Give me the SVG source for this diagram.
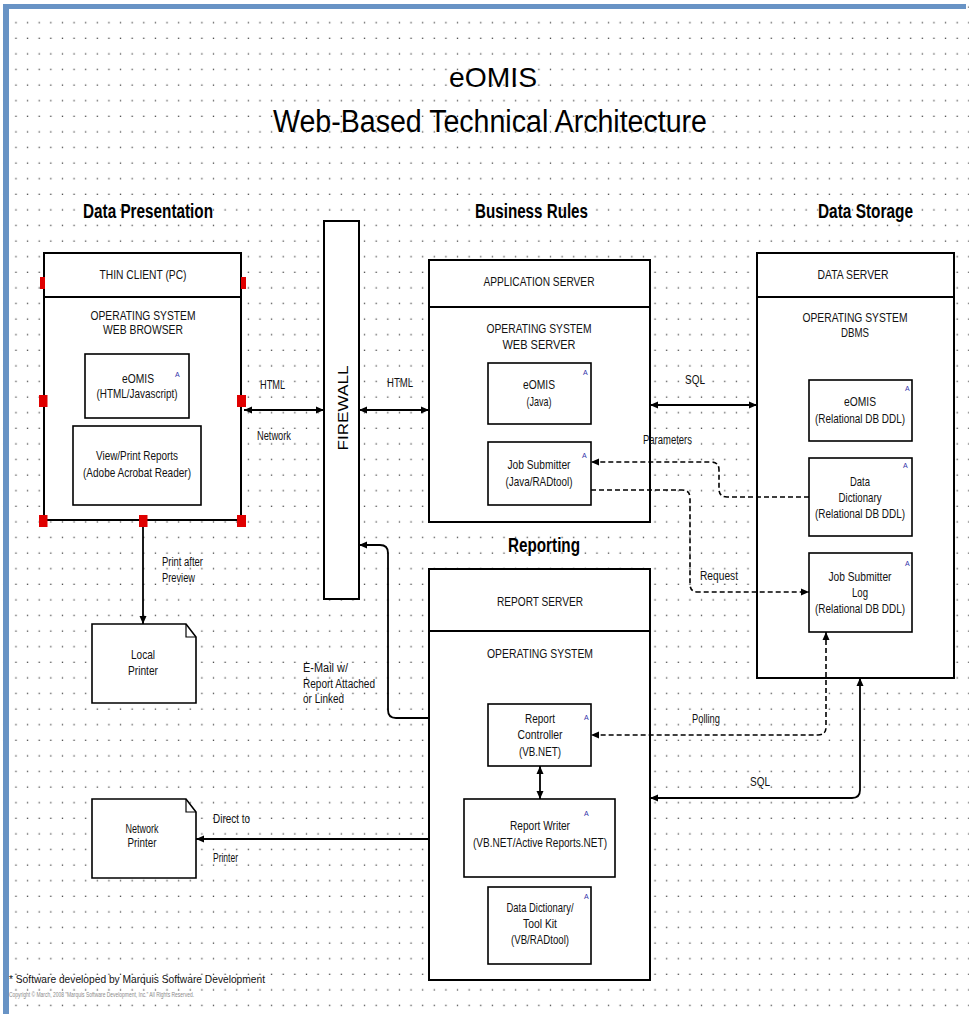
<svg xmlns="http://www.w3.org/2000/svg" width="969" height="1014" viewBox="0 0 969 1014">
<defs>
<pattern id="grid" patternUnits="userSpaceOnUse" x="0" y="0" width="11.62" height="15.6">
<rect x="3.7" y="6.45" width="1.3" height="1.3" fill="#444"/>
</pattern>
<marker id="ah" viewBox="0 0 8 8" refX="8" refY="4" markerWidth="8" markerHeight="8" markerUnits="userSpaceOnUse" orient="auto-start-reverse">
<path d="M0,0.5 L8,4 L0,7.5 z" fill="#000"/>
</marker>
</defs>
<style>
.box{fill:#fff;stroke:#000;stroke-width:2}
.in{fill:#fff;stroke:#000;stroke-width:1.6}
.t{font-family:"Liberation Sans",Arial,sans-serif;font-size:13px;text-anchor:middle;fill:#111}
.l{font-family:"Liberation Sans",Arial,sans-serif;font-size:12px;fill:#111}
.h{font-family:"Liberation Sans",Arial,sans-serif;font-size:20px;font-weight:bold;fill:#000}
.ti{font-family:"Liberation Sans",Arial,sans-serif;fill:#000}
.a{font-family:"Liberation Sans",Arial,sans-serif;font-size:7px;fill:#3333aa}
.c{fill:none;stroke:#000;stroke-width:1.8}
.d{fill:none;stroke:#000;stroke-width:1.6;stroke-dasharray:5 3}
.hd{fill:#e00000}
.f{font-family:"Liberation Sans",Arial,sans-serif;font-size:10.5px;fill:#111}
.cp{font-family:"Liberation Sans",Arial,sans-serif;font-size:6.5px;fill:#8a8a8a}
</style>
<rect width="969" height="1014" fill="#fff"/>
<rect width="969" height="1014" fill="url(#grid)"/>
<g id="frame" fill="#6893c5">
<rect x="3" y="4" width="963" height="5"/>
<rect x="3" y="4" width="6" height="1010"/>
</g>

<g id="title">
<text class="ti" x="449" y="87" font-size="28" textLength="88" lengthAdjust="spacingAndGlyphs">eOMIS</text>
<text class="ti" x="273" y="132" font-size="31" textLength="434" lengthAdjust="spacingAndGlyphs">Web-Based Technical Architecture</text>
</g>

<g id="section-headers">
<text class="h" x="83" y="218" textLength="130" lengthAdjust="spacingAndGlyphs">Data Presentation</text>
<text class="h" x="475" y="218" textLength="113" lengthAdjust="spacingAndGlyphs">Business Rules</text>
<text class="h" x="818" y="218" textLength="95" lengthAdjust="spacingAndGlyphs">Data Storage</text>
<text class="h" x="508" y="552" textLength="72" lengthAdjust="spacingAndGlyphs">Reporting</text>
</g>

<g id="thin-client">
<rect class="box" x="44" y="253" width="197" height="267"/>
<line x1="44" y1="297" x2="241" y2="297" stroke="#000" stroke-width="2"/>
<text class="t" x="143" y="279" textLength="87" lengthAdjust="spacingAndGlyphs">THIN CLIENT (PC)</text>
<text class="t" x="143" y="320" textLength="105" lengthAdjust="spacingAndGlyphs">OPERATING SYSTEM</text>
<text class="t" x="143" y="334" textLength="80" lengthAdjust="spacingAndGlyphs">WEB BROWSER</text>
</g>
<g id="tc-eomis">
<rect class="in" x="85" y="354" width="104" height="64"/>
<text class="t" x="138" y="383" textLength="32" lengthAdjust="spacingAndGlyphs">eOMIS</text>
<text class="t" x="137" y="398" textLength="81" lengthAdjust="spacingAndGlyphs">(HTML/Javascript)</text>
<text class="a" x="175" y="377">A</text>
</g>
<g id="tc-reports">
<rect class="in" x="73" y="426" width="128" height="79"/>
<text class="t" x="137" y="460" textLength="82" lengthAdjust="spacingAndGlyphs">View/Print Reports</text>
<text class="t" x="137" y="477" textLength="108" lengthAdjust="spacingAndGlyphs">(Adobe Acrobat Reader)</text>
</g>
<g id="handles">
<rect class="hd" x="40" y="277" width="5" height="12"/>
<rect class="hd" x="241" y="277" width="5" height="12"/>
<rect class="hd" x="39" y="395" width="8.5" height="12"/>
<rect class="hd" x="237" y="395" width="9" height="12"/>
<rect class="hd" x="39" y="515" width="8.5" height="12"/>
<rect class="hd" x="139" y="515" width="8.5" height="12"/>
<rect class="hd" x="237" y="515" width="9" height="12"/>
</g>

<g id="firewall">
<rect class="box" x="324" y="221" width="35" height="378"/>
<text class="ti" transform="translate(348,408) rotate(-90)" font-size="15" text-anchor="middle" textLength="85" lengthAdjust="spacingAndGlyphs">FIREWALL</text>
</g>

<g id="app-server">
<rect class="box" x="429" y="260" width="221" height="262"/>
<line x1="429" y1="307" x2="650" y2="307" stroke="#000" stroke-width="2"/>
<text class="t" x="539" y="286" textLength="111" lengthAdjust="spacingAndGlyphs">APPLICATION SERVER</text>
<text class="t" x="539" y="333" textLength="105" lengthAdjust="spacingAndGlyphs">OPERATING SYSTEM</text>
<text class="t" x="539" y="349" textLength="73" lengthAdjust="spacingAndGlyphs">WEB SERVER</text>
</g>
<g id="as-eomis">
<rect class="in" x="488" y="363" width="103" height="61"/>
<text class="t" x="539" y="389" textLength="32" lengthAdjust="spacingAndGlyphs">eOMIS</text>
<text class="t" x="539" y="406" textLength="25" lengthAdjust="spacingAndGlyphs">(Java)</text>
<text class="a" x="583" y="375">A</text>
</g>
<g id="as-jobsubmitter">
<rect class="in" x="488" y="442" width="103" height="63"/>
<text class="t" x="539" y="469" textLength="63" lengthAdjust="spacingAndGlyphs">Job Submitter</text>
<text class="t" x="539" y="486" textLength="67" lengthAdjust="spacingAndGlyphs">(Java/RADtool)</text>
<text class="a" x="582" y="458">A</text>
</g>

<g id="data-server">
<rect class="box" x="757" y="253" width="197" height="425"/>
<line x1="757" y1="297" x2="954" y2="297" stroke="#000" stroke-width="2"/>
<text class="t" x="853" y="279" textLength="71" lengthAdjust="spacingAndGlyphs">DATA SERVER</text>
<text class="t" x="855" y="322" textLength="105" lengthAdjust="spacingAndGlyphs">OPERATING SYSTEM</text>
<text class="t" x="855" y="337" textLength="28" lengthAdjust="spacingAndGlyphs">DBMS</text>
</g>
<g id="ds-eomis">
<rect class="in" x="809" y="380" width="103" height="61"/>
<text class="t" x="860" y="406" textLength="32" lengthAdjust="spacingAndGlyphs">eOMIS</text>
<text class="t" x="860" y="423" textLength="90" lengthAdjust="spacingAndGlyphs">(Relational DB DDL)</text>
<text class="a" x="905" y="391">A</text>
</g>
<g id="ds-datadictionary">
<rect class="in" x="809" y="458" width="103" height="78"/>
<text class="t" x="860" y="486" textLength="20" lengthAdjust="spacingAndGlyphs">Data</text>
<text class="t" x="860" y="502" textLength="43" lengthAdjust="spacingAndGlyphs">Dictionary</text>
<text class="t" x="860" y="518" textLength="90" lengthAdjust="spacingAndGlyphs">(Relational DB DDL)</text>
<text class="a" x="903" y="468">A</text>
</g>
<g id="ds-jobsubmitterlog">
<rect class="in" x="809" y="553" width="103" height="79"/>
<text class="t" x="860" y="581" textLength="63" lengthAdjust="spacingAndGlyphs">Job Submitter</text>
<text class="t" x="860" y="597" textLength="16" lengthAdjust="spacingAndGlyphs">Log</text>
<text class="t" x="860" y="613" textLength="90" lengthAdjust="spacingAndGlyphs">(Relational DB DDL)</text>
<text class="a" x="905" y="566">A</text>
</g>

<g id="report-server">
<rect class="box" x="429" y="569" width="221" height="411"/>
<line x1="429" y1="631" x2="650" y2="631" stroke="#000" stroke-width="2"/>
<text class="t" x="540" y="606" textLength="86" lengthAdjust="spacingAndGlyphs">REPORT SERVER</text>
<text class="t" x="540" y="658" textLength="106" lengthAdjust="spacingAndGlyphs">OPERATING SYSTEM</text>
</g>
<g id="rs-controller">
<rect class="in" x="488" y="704" width="103" height="62"/>
<text class="t" x="540" y="723" textLength="30" lengthAdjust="spacingAndGlyphs">Report</text>
<text class="t" x="540" y="739" textLength="45" lengthAdjust="spacingAndGlyphs">Controller</text>
<text class="t" x="540" y="756" textLength="42" lengthAdjust="spacingAndGlyphs">(VB.NET)</text>
<text class="a" x="584" y="720">A</text>
</g>
<g id="rs-writer">
<rect class="in" x="464" y="799" width="151" height="78"/>
<text class="t" x="540" y="830" textLength="60" lengthAdjust="spacingAndGlyphs">Report Writer</text>
<text class="t" x="540" y="847" textLength="134" lengthAdjust="spacingAndGlyphs">(VB.NET/Active Reports.NET)</text>
<text class="a" x="584" y="816">A</text>
</g>
<g id="rs-toolkit">
<rect class="in" x="488" y="887" width="103" height="77"/>
<text class="t" x="540" y="912" textLength="67" lengthAdjust="spacingAndGlyphs">Data Dictionary/</text>
<text class="t" x="540" y="928" textLength="34" lengthAdjust="spacingAndGlyphs">Tool Kit</text>
<text class="t" x="540" y="944" textLength="58" lengthAdjust="spacingAndGlyphs">(VB/RADtool)</text>
<text class="a" x="584" y="899">A</text>
</g>

<g id="local-printer">
<path class="in" d="M92,624 H186 L196,637 V703 H92 Z"/>
<path d="M186,624 V637 H196" fill="none" stroke="#000" stroke-width="1.2"/>
<text class="t" x="143" y="659" textLength="24" lengthAdjust="spacingAndGlyphs">Local</text>
<text class="t" x="143" y="675" textLength="30" lengthAdjust="spacingAndGlyphs">Printer</text>
</g>
<g id="network-printer">
<path class="in" d="M92,799 H186 L196,812 V878 H92 Z"/>
<path d="M186,799 V812 H196" fill="none" stroke="#000" stroke-width="1.2"/>
<text class="t" x="142" y="833" textLength="33" lengthAdjust="spacingAndGlyphs">Network</text>
<text class="t" x="142" y="847" textLength="29" lengthAdjust="spacingAndGlyphs">Printer</text>
</g>

<g id="connectors">
<line class="c" x1="244" y1="410" x2="324" y2="410" marker-start="url(#ah)" marker-end="url(#ah)"/>
<line class="c" x1="359" y1="410" x2="429" y2="410" marker-start="url(#ah)" marker-end="url(#ah)"/>
<line class="c" x1="650" y1="405" x2="757" y2="405" marker-start="url(#ah)" marker-end="url(#ah)"/>
<line class="c" x1="143" y1="527" x2="143" y2="624" marker-end="url(#ah)"/>
<path class="c" d="M429,718 H396 Q388,718 388,710 V553 Q388,545 380,545 H359" marker-end="url(#ah)"/>
<line class="c" x1="429" y1="839" x2="196" y2="839" marker-end="url(#ah)"/>
<line class="c" x1="540" y1="766" x2="540" y2="799" marker-start="url(#ah)" marker-end="url(#ah)"/>
<path class="c" d="M860,678 V790 Q860,798 852,798 H650" marker-start="url(#ah)" marker-end="url(#ah)"/>
<path class="d" d="M809,497 H727 Q719,497 719,489 V470 Q719,462 711,462 H591" marker-end="url(#ah)"/>
<path class="d" d="M591,490 H682 Q690,490 690,498 V584 Q690,592 698,592 H809" marker-end="url(#ah)"/>
<path class="d" d="M826,632 V727 Q826,735 818,735 H591" marker-start="url(#ah)" marker-end="url(#ah)"/>
</g>

<g id="connector-labels">
<text class="l" x="260" y="389" textLength="25" lengthAdjust="spacingAndGlyphs">HTML</text>
<text class="l" x="257" y="440" textLength="34" lengthAdjust="spacingAndGlyphs">Network</text>
<text class="l" x="387" y="387" textLength="26" lengthAdjust="spacingAndGlyphs">HTML</text>
<text class="l" x="685" y="384" textLength="20" lengthAdjust="spacingAndGlyphs">SQL</text>
<text class="l" x="643" y="444" textLength="49" lengthAdjust="spacingAndGlyphs">Parameters</text>
<text class="l" x="700" y="580" textLength="38" lengthAdjust="spacingAndGlyphs">Request</text>
<text class="l" x="162" y="566" textLength="41" lengthAdjust="spacingAndGlyphs">Print after</text>
<text class="l" x="162" y="582" textLength="33" lengthAdjust="spacingAndGlyphs">Preview</text>
<text class="l" x="303" y="672" textLength="45" lengthAdjust="spacingAndGlyphs">E-Mail w/</text>
<text class="l" x="303" y="688" textLength="72" lengthAdjust="spacingAndGlyphs">Report Attached</text>
<text class="l" x="303" y="703" textLength="41" lengthAdjust="spacingAndGlyphs">or Linked</text>
<text class="l" x="692" y="723" textLength="28" lengthAdjust="spacingAndGlyphs">Polling</text>
<text class="l" x="750" y="786" textLength="20" lengthAdjust="spacingAndGlyphs">SQL</text>
<text class="l" x="213" y="823" textLength="37" lengthAdjust="spacingAndGlyphs">Direct to</text>
<text class="l" x="213" y="862" textLength="25" lengthAdjust="spacingAndGlyphs">Printer</text>
</g>

<g id="footer">
<text class="f" x="9" y="983" textLength="256" lengthAdjust="spacingAndGlyphs">* Software developed by Marquis Software Development</text>
<text class="cp" x="9" y="997" textLength="185" lengthAdjust="spacingAndGlyphs">Copyright © March, 2008 "Marquis Software Development, Inc." All Rights Reserved.</text>
</g>
</svg>
